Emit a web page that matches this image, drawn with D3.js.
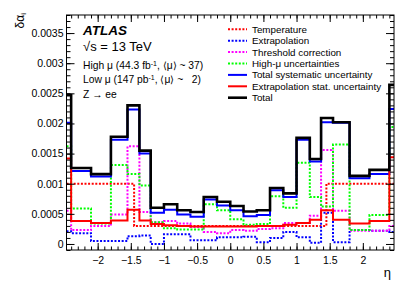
<!DOCTYPE html>
<html>
<head>
<meta charset="utf-8">
<script src="https://cdn.jsdelivr.net/npm/d3@7"></script>
<style>
  body { margin: 0; background: #fff; }
  svg text { font-family: "Liberation Sans", Arial, sans-serif; fill: #000; }
</style>
</head>
<body>
<div id="plot"></div>
<script>
// eta binning
const edges = [-2.47, -2.4, -2.1, -1.8, -1.55, -1.37, -1.2, -1.0, -0.8, -0.6, -0.4, -0.2,
  0, 0.2, 0.4, 0.6, 0.8, 1.0, 1.2, 1.37, 1.55, 1.8, 2.1, 2.4, 2.47];

// temperature uses a coarser binning
const tempEdges = [-2.47, -1.45, 1.45, 2.47];
const temperature = [0.001, 0.0003, 0.001];

const extrapolation = [0.00021, 0.00018, 0.00005, 0.00005, 0.00013, 0.00014, 0.0, 0.00016,
  0.00016, 0.00006, 0.00006, 0.00011, 0.00011, 0.00012, 0.00003, 0.0001, 0.0002, 0.00011,
  0.00002, 0.00052, 0.00003, 0.00023, 0.00022, 0.0002];

const threshold = [0.00055, 0.00023, 0.0003, 0.00049, 0.00162, 0.00053, 0.00036, 0.00038,
  0.00034, 0.00028, 0.0002, 0.00018, 0.00023, 0.00022, 0.00025, 0.00026, 0.00035, 0.00035,
  0.00047, 0.00156, 0.00055, 0.00022, 0.00022, 0.0003];

const highMu = [0.00162, 0.00059, 0.00034, 0.00131, 0.00116, 0.00097, 0.00036, 0.00026,
  0.00024, 0.00024, 0.00066, 0.00056, 0.00041, 0.00032, 0.00033, 0.00079, 0.0006, 0.00135,
  0.00078, 0.00062, 0.00165, 0.00023, 0.00048, 0.00194];

const totalSyst = [0.00201, 0.00121, 0.00112, 0.00173, 0.00223, 0.0015, 0.00052, 0.00057,
  0.00049, 0.00045, 0.00074, 0.00064, 0.00056, 0.00046, 0.00048, 0.00089, 0.00078, 0.00173,
  0.00137, 0.00202, 0.00201, 0.00109, 0.00116, 0.00224];

const extrapStat = [0.00142, 0.00038, 0.00035, 0.00039, 0.00057, 0.00039, 0.00033, 0.00031,
  0.0003, 0.00029, 0.00029, 0.00029, 0.00029, 0.00029, 0.0003, 0.0003, 0.00032, 0.00035,
  0.0004, 0.00056, 0.0004, 0.00034, 0.00038, 0.00144];

const total = [0.00247, 0.00126, 0.00116, 0.00178, 0.0023, 0.00155, 0.0006, 0.00066,
  0.00056, 0.00053, 0.00078, 0.0007, 0.00063, 0.00054, 0.00056, 0.00093, 0.00084, 0.00176,
  0.00141, 0.00209, 0.00202, 0.00113, 0.00123, 0.00264];

const xTicks = [-2, -1.5, -1, -0.5, 0, 0.5, 1, 1.5, 2];
const yTicks = [0, 0.0005, 0.001, 0.0015, 0.002, 0.0025, 0.003, 0.0035];
const yTickLabels = ["0", "0.0005", "0.001", "0.0015", "0.002", "0.0025", "0.003", "0.0035"];

const series = [
  { name: "Temperature", edges: tempEdges, values: temperature, color: "#ff0000", dotted: true },
  { name: "Extrapolation", edges: edges, values: extrapolation, color: "#0000ff", dotted: true },
  { name: "Threshold correction", edges: edges, values: threshold, color: "#ff00ff", dotted: true },
  { name: "High-\u03bc uncertainties", edges: edges, values: highMu, color: "#00ff00", dotted: true },
  { name: "Total systematic uncertainty", edges: edges, values: totalSyst, color: "#0000ff", dotted: false },
  { name: "Extrapolation stat. uncertainty", edges: edges, values: extrapStat, color: "#ff0000", dotted: false },
  { name: "Total", edges: edges, values: total, color: "#000000", dotted: false, width: 2.6 }
];

const width = 415;
const height = 298;
const margin = { top: 15, right: 21, bottom: 48, left: 66.5 };
const plotW = width - margin.left - margin.right;
const plotH = height - margin.top - margin.bottom;

const svg = d3.select("#plot")
  .append("svg")
  .attr("width", width)
  .attr("height", height);

const x = d3.scaleLinear().domain([-2.47, 2.47]).range([margin.left, margin.left + plotW]);
const y = d3.scaleLinear().domain([-0.0001, 0.0038]).range([margin.top + plotH, margin.top]);

svg.append("clipPath")
  .attr("id", "clip")
  .append("rect")
  .attr("x", margin.left)
  .attr("y", margin.top)
  .attr("width", plotW)
  .attr("height", plotH);

// histograms as step lines
const line = d3.line()
  .x(d => x(d[0]))
  .y(d => y(d[1]))
  .curve(d3.curveStepAfter);

const g = svg.append("g").attr("clip-path", "url(#clip)");

series.forEach(s => {
  const pts = s.values.map((v, i) => [s.edges[i], v]);
  pts.push([s.edges[s.edges.length - 1], s.values[s.values.length - 1]]);
  g.append("path")
    .attr("d", line(pts))
    .attr("fill", "none")
    .attr("stroke", s.color)
    .attr("stroke-width", s.width || 2)
    .attr("stroke-dasharray", s.dotted ? "2,1.6" : null);
});

// axes with inward ticks on all four sides
const bottom = margin.top + plotH;
const right = margin.left + plotW;
const xMinor = d3.range(-24, 25).map(i => i / 10);
const yMinor = d3.range(-1, 39).map(i => i / 10000);

function drawAxis(axis, tx, ty) {
  const a = svg.append("g")
    .attr("transform", `translate(${tx},${ty})`)
    .call(axis);
  a.select(".domain").remove();
  a.selectAll("line").attr("stroke", "#000").attr("stroke-width", 1);
  a.selectAll("text")
    .style("font-family", "Liberation Sans, Arial, sans-serif")
    .style("font-size", "10.5px")
    .attr("fill", "#000");
  return a;
}

drawAxis(d3.axisBottom(x).tickValues(xTicks).tickSize(-7).tickPadding(7)
  .tickFormat(d => d3.format("")(d).replace("-", "\u2212")), 0, bottom);
drawAxis(d3.axisBottom(x).tickValues(xMinor).tickSize(-3.5).tickFormat(""), 0, bottom);
drawAxis(d3.axisTop(x).tickValues(xTicks).tickSize(-7).tickFormat(""), 0, margin.top);
drawAxis(d3.axisTop(x).tickValues(xMinor).tickSize(-3.5).tickFormat(""), 0, margin.top);

drawAxis(d3.axisLeft(y).tickValues(yTicks).tickSize(-8).tickPadding(3)
  .tickFormat((d, i) => yTickLabels[i]), margin.left, 0);
drawAxis(d3.axisLeft(y).tickValues(yMinor).tickSize(-4).tickFormat(""), margin.left, 0);
drawAxis(d3.axisRight(y).tickValues(yTicks).tickSize(-8).tickFormat(""), right, 0);
drawAxis(d3.axisRight(y).tickValues(yMinor).tickSize(-4).tickFormat(""), right, 0);

svg.append("rect")
  .attr("x", margin.left)
  .attr("y", margin.top)
  .attr("width", plotW)
  .attr("height", plotH)
  .attr("fill", "none")
  .attr("stroke", "#000")
  .attr("stroke-width", 1);

// axis titles
svg.append("text")
  .attr("x", 391)
  .attr("y", 277)
  .attr("text-anchor", "end")
  .style("font-size", "13px")
  .text("\u03b7");

const yTitle = svg.append("text")
  .attr("transform", "translate(24,13) rotate(-90)")
  .attr("text-anchor", "end")
  .style("font-size", "12px");
yTitle.append("tspan").text("\u03b4\u03b1");
yTitle.append("tspan").attr("baseline-shift", "-25%").style("font-size", "8px").text("i");

// ATLAS label block
const lx = 83;
svg.append("text")
  .attr("x", lx).attr("y", 35)
  .style("font-size", "13.5px")
  .style("font-weight", "bold")
  .style("font-style", "italic")
  .text("ATLAS");

svg.append("text")
  .attr("x", lx).attr("y", 51)
  .style("font-size", "13px")
  .text("\u221as = 13 TeV");

const high = svg.append("text")
  .attr("x", lx).attr("y", 69)
  .style("font-size", "10.3px")
  .style("white-space", "pre");
high.append("tspan").text("High \u03bc (44.3 fb");
high.append("tspan").attr("baseline-shift", "40%").style("font-size", "7px").text("-1");
high.append("tspan").text(", \u27e8\u03bc\u27e9 ~ 37)");

const low = svg.append("text")
  .attr("x", lx).attr("y", 83)
  .style("font-size", "10.3px")
  .style("white-space", "pre");
low.append("tspan").text("Low \u03bc (147 pb");
low.append("tspan").attr("baseline-shift", "40%").style("font-size", "7px").text("-1");
low.append("tspan").text(", \u27e8\u03bc\u27e9 ~   2)");

svg.append("text")
  .attr("x", lx).attr("y", 98)
  .style("font-size", "10.3px")
  .text("Z \u2192 ee");

// legend
const legend = svg.append("g");
series.forEach((s, i) => {
  const ly = 29.3 + i * 11.4;
  legend.append("line")
    .attr("x1", 228).attr("x2", 247)
    .attr("y1", ly).attr("y2", ly)
    .attr("stroke", s.color)
    .attr("stroke-width", s.width || 2)
    .attr("stroke-dasharray", s.dotted ? "2,1.6" : null);
  legend.append("text")
    .attr("x", 252)
    .attr("y", ly + 3.5)
    .style("font-size", "9.8px")
    .text(s.name);
});
</script>
</body>
</html>
